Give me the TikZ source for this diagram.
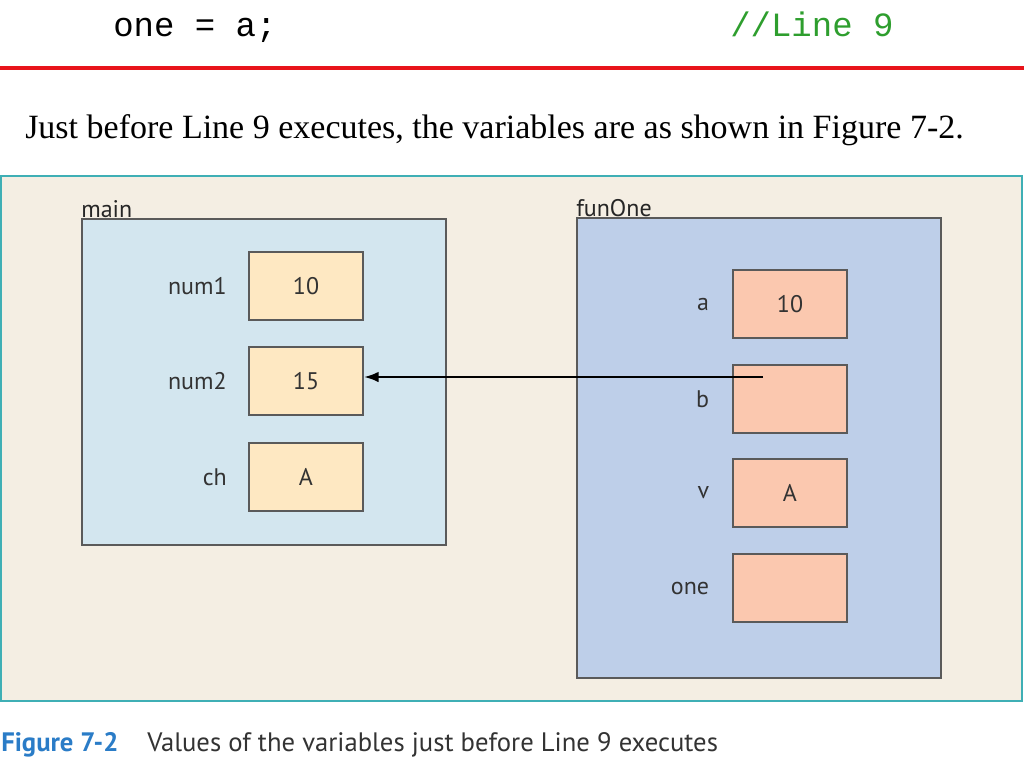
\documentclass[tikz,border=0pt]{standalone}
\usepackage{fontspec}
\setmainfont{Liberation Serif}
\setmonofont{Liberation Mono}
\newfontfamily\figfont{PT Sans}
\usetikzlibrary{positioning,arrows.meta}

\definecolor{framebg}{HTML}{F4EEE3}
\definecolor{frameline}{HTML}{3FAFB5}
\definecolor{mainbg}{HTML}{D3E6EF}
\definecolor{funbg}{HTML}{BECFE9}
\definecolor{mainval}{HTML}{FEE8C2}
\definecolor{funval}{HTML}{FBC8AF}
\definecolor{boxline}{HTML}{5A5A5A}
\definecolor{codegreen}{HTML}{2E9E2E}
\definecolor{rulered}{HTML}{E8141B}
\definecolor{capblue}{HTML}{2A7CC7}

\tikzset{
  cellmain/.style={draw=boxline, line width=1.5pt, fill=mainval, minimum width=85.5pt,
    minimum height=51pt, font=\figfont\fontsize{18}{20}\selectfont, text=black!80},
  cellfun/.style={cellmain, fill=funval},
  varname/.style={inner sep=0pt, font=\figfont\fontsize{18}{20}\selectfont, text=black!80},
  stacklbl/.style={inner sep=0pt, anchor=south west, font=\figfont\fontsize{18}{20}\selectfont, text=black!85}
}

\begin{document}
\begin{tikzpicture}[x=0.75pt,y=-0.75pt]
  \useasboundingbox (0,0) rectangle (1024,768);

  %% code line
  \node[anchor=base west, inner sep=0pt, font=\ttfamily\fontsize{25.5}{30}\selectfont] (code) at (113,36) {one = a;};
  \node[anchor=base west, inner sep=0pt, text=codegreen, font=\ttfamily\fontsize{25.5}{30}\selectfont] (comment) at (730,36) {//Line 9};
  \draw[rulered, line width=3.5pt] (0,68) -- (1024,68);

  %% sentence
  \node[anchor=base west, inner sep=0pt, font=\fontsize{25.5}{30}\selectfont] (intro) at (25,138)
    {Just before Line 9 executes, the variables are as shown in Figure 7-2.};

  %% figure frame
  \draw[frameline, line width=1.5pt, fill=framebg] (1,176) rectangle (1022,701);

  %% stack of main
  \draw[boxline, line width=1.5pt, fill=mainbg] (82,219) rectangle (446,545);
  \node[stacklbl] (mainlbl) at (81,218) {main};
  \node[cellmain] (num1) at (306,286) {10};
  \node[cellmain] (num2) at (306,381) {15};
  \node[cellmain] (ch) at (306,477) {A};
  \node[varname, left=15.75pt of num1] (num1lbl) {num1};
  \node[varname, left=15.75pt of num2] (num2lbl) {num2};
  \node[varname, left=15.75pt of ch] (chlbl) {ch};

  %% stack of funOne
  \draw[boxline, line width=1.5pt, fill=funbg] (577,218) rectangle (941,678);
  \node[stacklbl] (funlbl) at (576,217) {funOne};
  \node[cellfun] (a) at (790,304) {10};
  \node[cellfun] (b) at (790,399) {};
  \node[cellfun] (v) at (790,493) {A};
  \node[cellfun] (one) at (790,588) {};
  \node[varname, left=17pt of a] (albl) {a};
  \node[varname, left=17pt of b] (blbl) {b};
  \node[varname, left=17pt of v] (vlbl) {v};
  \node[varname, left=17pt of one] (onelbl) {one};

  %% reference b -> num2
  \coordinate (bref) at (763,377);
  \draw[line width=1.8pt, -{Latex[length=11pt,width=8pt]}] (bref) -- (bref -| num2.east);

  %% caption
  \node[anchor=base west, inner sep=0pt, text=capblue, font=\figfont\fontsize{20}{22}\selectfont\bfseries] (capnum) at (1,751) {Figure 7-2};
  \node[anchor=base west, inner sep=0pt, text=black!80, font=\figfont\fontsize{20}{22}\selectfont] (captext) at (147,751)
    {Values of the variables just before Line 9 executes};
\end{tikzpicture}
\end{document}
